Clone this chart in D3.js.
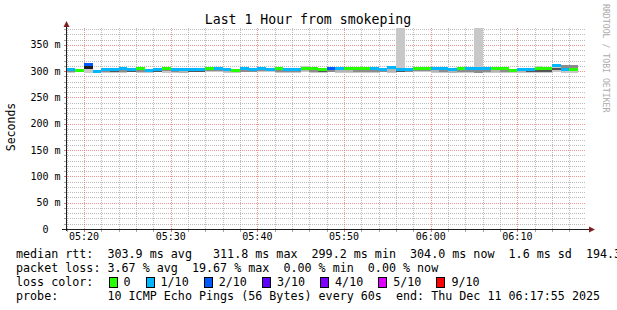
<!DOCTYPE html>
<html>
<head>
<meta charset="utf-8">
<script src="https://cdn.jsdelivr.net/npm/d3@7"></script>
<style>
  body { margin: 0; background: #fff; }
  text { font-family: "DejaVu Sans Mono", monospace; white-space: pre; }
</style>
</head>
<body>
<svg id="chart" width="617" height="310"></svg>
<script>
// one sample per minute, first sample at 05:18
const median = [303.5, 300.8, 311.8, 299.2, 303.5, 303.8, 304.2, 303.2, 304.4, 301.5,
  303.8, 304.5, 304.0, 304.0, 303.6, 303.5, 304.6, 304.4, 303.0, 301.5,
  304.2, 304.0, 304.2, 304.0, 304.4, 303.0, 303.0, 304.2, 304.4, 304.0,
  304.2, 304.4, 304.6, 304.4, 304.2, 304.2, 302.8, 307.5, 304.0, 303.0,
  304.2, 304.2, 304.2, 304.2, 304.0, 304.4, 304.2, 304.2, 304.2, 304.4,
  304.4, 302.0, 303.5, 304.0, 304.4, 304.4, 310.0, 304.0, 304.0];

// lost pings out of 10
const loss = [1, 0, 2, 1, 1, 1, 1, 1, 0, 1,
  1, 0, 1, 1, 1, 1, 0, 1, 1, 0,
  1, 1, 1, 1, 0, 1, 1, 0, 0, 0,
  2, 1, 0, 0, 0, 1, 1, 1, 1, 1,
  0, 0, 1, 1, 1, 0, 1, 1, 1, 0,
  0, 0, 1, 1, 0, 0, 1, 1, 0];

// smoke: full spread of the pings, and the denser core
const smokeLo = [296.5, 297.5, 296.5, 297, 296.5, 297, 297, 298, 297, 297,
  297.5, 297, 297, 296, 297.5, 298, 298, 297.5, 297, 297,
  297.5, 297.5, 298, 297.5, 297, 297, 297, 297.5, 297, 296.5,
  297.5, 296, 296.5, 297, 296.5, 297, 297.5, 296, 297.5, 297.5,
  297.5, 297.5, 296, 296, 296, 297, 296, 296, 296, 297,
  296.5, 296.5, 296.5, 297, 297, 297, 298, 297, 296.5];
const smokeHi = [305, 302, 313, 301, 305, 305, 306, 305, 306, 303,
  305.5, 306, 305.5, 305.5, 305, 305, 306, 306, 305, 303,
  306, 305.5, 305.5, 305.5, 306, 304.5, 304.5, 309, 306, 305.5,
  306, 306, 306, 306, 306, 306, 305, 309.5, 383, 305,
  306, 306, 306, 306, 305.5, 306, 306, 383, 306, 306,
  306, 304, 305, 305.5, 309, 306, 311.5, 311, 311];
const coreLo = [298, 297.5, 305, 297.5, 298.5, 298.5, 299, 298.5, 299, 298,
  299, 299.5, 299, 297, 299, 299, 299.5, 299.5, 298, 298,
  299, 299, 299.5, 299.5, 299, 298.5, 298.5, 300, 298.5, 297.5,
  299, 297.5, 298, 299, 297.5, 299, 299, 297.5, 298.5, 299,
  299.5, 299.5, 297.5, 297.5, 297, 298.5, 297.5, 297, 297.5, 298.5,
  297.5, 297.5, 298, 298, 298, 298, 302, 304, 304];
const coreHi = [301, 299.5, 311, 299, 301, 301.5, 302, 301, 302, 300,
  301.5, 302, 302, 301, 301.5, 301.5, 302.5, 302, 301, 300,
  302, 302, 302, 302, 302, 301, 301, 306.5, 302, 301,
  302, 302, 302, 302, 302, 302, 301, 305, 302, 301,
  302, 302, 302, 302, 301, 302, 302, 302, 302, 302,
  302, 300, 301, 301.5, 302, 302, 306, 311, 311];
const coreShade = [1, 2, 3, 1, 1, 2, 1, 2, 1, 1,
  2, 1, 1, 0, 2, 2, 1, 1, 0, 1,
  1, 1, 1, 1, 1, 1, 1, 0, 1, 2,
  1, 0, 0, 1, 1, 1, 1, 0, 2, 1,
  1, 1, 0, 1, 0, 1, 1, 1, 1, 0,
  1, 1, 0, 2, 2, 2, 2, 1, 1];

const lossLabels = ['0', '1/10', '2/10', '3/10', '4/10', '5/10', '9/10'];
const lossLevels = [0, 1, 2, 3, 4, 5, 9];

const legendRows = [
  'median rtt:  303.9 ms avg   311.8 ms max  299.2 ms min  304.0 ms now  1.6 ms sd  194.3 am/s',
  'packet loss: 3.67 % avg  19.67 % max  0.00 % min  0.00 % now',
  'loss color:',
  'probe:       10 ICMP Echo Pings (56 Bytes) every 60s  end: Thu Dec 11 06:17:55 2025'
];

const lossColor = {0: '#26ff00', 1: '#00b8ff', 2: '#0059ff', 3: '#5e00ff',
  4: '#7e00ff', 5: '#dd00ff', 9: '#ff0000'};
const shadeColor = ['#b4b4b4', '#8c8c8c', '#555555', '#1e1e1e'];

const svg = d3.select('#chart');
const plotL = 66, plotR = 586, plotT = 28, plotB = 229;
const crisp = v => Math.round(v) + 0.5;

const x = d3.scaleTime()
  .domain([new Date(2025, 11, 11, 5, 17, 55), new Date(2025, 11, 11, 6, 17, 55)])
  .range([plotL, plotR]);
const y = d3.scaleLinear().domain([0, 382]).range([plotB, plotT]);

const t0 = new Date(2025, 11, 11, 5, 18, 0);
const samples = median.map((m, i) => ({
  t: d3.timeMinute.offset(t0, i),
  t1: d3.timeMinute.offset(t0, i + 1),
  m, loss: loss[i],
  lo: smokeLo[i], hi: smokeHi[i],
  clo: coreLo[i], chi: coreHi[i], shade: coreShade[i]
}));

// grid
const grid = svg.append('g').attr('shape-rendering', 'crispEdges');
const minorX = x.ticks(d3.timeMinute.every(2)).filter(d => d.getMinutes() % 10);
const majorX = x.ticks(d3.timeMinute.every(10));
const minorY = d3.range(10, 381, 10).filter(v => v % 50);
const majorY = d3.range(50, 351, 50);

grid.selectAll('.vmin').data(minorX).join('line')
  .attr('x1', d => crisp(x(d))).attr('x2', d => crisp(x(d)))
  .attr('y1', plotT).attr('y2', plotB)
  .attr('stroke', 'rgba(143,143,143,0.6)').attr('stroke-dasharray', '1,1');
grid.selectAll('.hmin').data(minorY).join('line')
  .attr('y1', d => crisp(y(d))).attr('y2', d => crisp(y(d)))
  .attr('x1', plotL).attr('x2', plotR)
  .attr('stroke', 'rgba(143,143,143,0.6)').attr('stroke-dasharray', '1,1');
grid.selectAll('.vmaj').data(majorX).join('line')
  .attr('x1', d => crisp(x(d))).attr('x2', d => crisp(x(d)))
  .attr('y1', plotT).attr('y2', plotB)
  .attr('stroke', 'rgba(222,79,79,0.6)').attr('stroke-dasharray', '1,1');
grid.selectAll('.hmaj').data(majorY).join('line')
  .attr('y1', d => crisp(y(d))).attr('y2', d => crisp(y(d)))
  .attr('x1', plotL).attr('x2', plotR)
  .attr('stroke', 'rgba(222,79,79,0.6)').attr('stroke-dasharray', '1,1');

// smoke and median
const plot = svg.append('g').attr('shape-rendering', 'crispEdges');
plot.selectAll('.smoke').data(samples).join('rect')
  .attr('x', d => x(d.t)).attr('width', d => x(d.t1) - x(d.t))
  .attr('y', d => y(Math.min(d.hi, 382))).attr('height', d => y(d.lo) - y(Math.min(d.hi, 382)))
  .attr('fill', '#c8c8c8');
plot.selectAll('.core').data(samples).join('rect')
  .attr('x', d => x(d.t)).attr('width', d => x(d.t1) - x(d.t))
  .attr('y', d => y(d.chi)).attr('height', d => y(d.clo) - y(d.chi))
  .attr('fill', d => shadeColor[d.shade]);
plot.selectAll('.med').data(samples).join('rect')
  .attr('x', d => x(d.t)).attr('width', d => x(d.t1) - x(d.t))
  .attr('y', d => y(d.m) - 1.5).attr('height', 3)
  .attr('fill', d => lossColor[d.loss]);

// axes
const axis = svg.append('g').attr('shape-rendering', 'crispEdges');
axis.selectAll('.ytick').data(d3.range(0, 381, 10)).join('line')
  .attr('x1', plotL - 2).attr('x2', plotL)
  .attr('y1', d => crisp(y(d))).attr('y2', d => crisp(y(d)))
  .attr('stroke', d => d % 50 ? 'rgba(143,143,143,0.8)' : 'rgba(222,79,79,0.8)');
axis.selectAll('.xtick').data(x.ticks(d3.timeMinute.every(2))).join('line')
  .attr('x1', d => crisp(x(d))).attr('x2', d => crisp(x(d)))
  .attr('y1', plotB + 1).attr('y2', plotB + 3)
  .attr('stroke', d => d.getMinutes() % 10 ? 'rgba(143,143,143,0.8)' : 'rgba(222,79,79,0.8)');
axis.append('line').attr('x1', crisp(plotL)).attr('x2', crisp(plotL))
  .attr('y1', plotB + 2).attr('y2', 24).attr('stroke', '#1f1f1f');
axis.append('line').attr('x1', plotL - 4).attr('x2', 590)
  .attr('y1', crisp(plotB)).attr('y2', crisp(plotB)).attr('stroke', '#1f1f1f');
svg.append('path').attr('d', `M${crisp(plotL) - 3},27L${crisp(plotL) + 3},27L${crisp(plotL)},21Z`)
  .attr('fill', '#801f1f');
svg.append('path').attr('d', `M589,${crisp(plotB) - 3}L589,${crisp(plotB) + 3}L595,${crisp(plotB)}Z`)
  .attr('fill', '#801f1f');

svg.append('g').selectAll('text').data(d3.range(0, 351, 50)).join('text')
  .attr('x', 60.5).attr('y', d => y(d) + 3.5)
  .attr('text-anchor', 'end').attr('font-size', 10)
  .text(d => d === 0 ? '0  ' : `${d} m`);
svg.append('g').selectAll('text').data(majorX).join('text')
  .attr('x', d => x(d)).attr('y', 240)
  .attr('text-anchor', 'middle').attr('font-size', 10)
  .text(d3.timeFormat('%H:%M'));

svg.append('text').attr('x', 308).attr('y', 24).attr('text-anchor', 'middle')
  .attr('font-size', 13.2).text('Last 1 Hour from smokeping');
svg.append('text').attr('transform', 'translate(14.5,127) rotate(-90)')
  .attr('text-anchor', 'middle').attr('font-size', 11.5).text('Seconds');
svg.append('text').attr('transform', 'translate(603,4) rotate(90)')
  .attr('font-size', 8.2).attr('fill', '#ababab').text('RRDTOOL / TOBI OETIKER');

// legend
const cw = 0.602 * 11.7;
svg.append('g').selectAll('text').data(legendRows).join('text')
  .attr('x', 16).attr('y', (d, i) => 258 + i * 14)
  .attr('font-size', 11.7).text(d => d);

let lx = 108.5;
const items = lossLevels.map((lv, i) => {
  const it = {lv, label: lossLabels[i], x: lx};
  lx += 15 + lossLabels[i].length * cw + 15;
  return it;
});
const leg = svg.append('g').selectAll('g').data(items).join('g')
  .attr('transform', d => `translate(${d.x},277)`);
leg.append('rect').attr('x', 0.5).attr('y', 0.5).attr('width', 8).attr('height', 10)
  .attr('fill', d => lossColor[d.lv]).attr('stroke', '#000')
  .attr('shape-rendering', 'crispEdges');
leg.append('text').attr('x', 15).attr('y', 9).attr('font-size', 11.7).text(d => d.label);
</script>
</body>
</html>
